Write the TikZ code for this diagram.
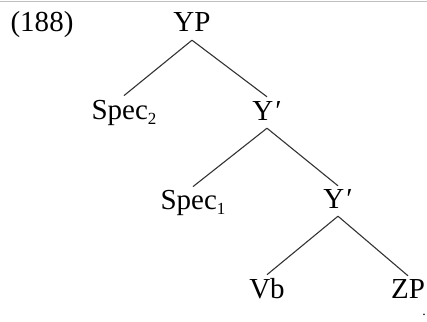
\documentclass[tikz,border=0pt]{standalone}
\usepackage{fontspec}
\setmainfont{Liberation Serif}
\newcommand{\lowsub}[1]{\raisebox{-5pt}{\fontsize{17}{17}\selectfont #1}}
\tikzset{
  cat/.style={anchor=base, inner sep=0pt, font=\fontsize{29}{29}\selectfont},
  branch/.style={line width=1.1pt, black!80},
}
\begin{document}
\begin{tikzpicture}[x=1pt, y=-1pt]
  \useasboundingbox (0,0) rectangle (427,321);
  % thin rule along the top edge
  \draw[black!25, line width=0.8pt] (0,1) -- (427,1);

  \node[cat] (ex) at (42,31) {(188)};
  \node[cat] (yp) at (192,31) {YP};
  \node[cat] (spec2) at (124,119) {Spec\lowsub{2}};
  \node[cat] (ybar1) at (267,120) {Y\kern2pt′};
  \node[cat] (spec1) at (193,209) {Spec\lowsub{1}};
  \node[cat] (ybar2) at (338,208) {Y\kern2pt′};
  \node[cat] (vb) at (267,298) {Vb};
  \node[cat] (zp) at (408,298) {ZP};
  \node[anchor=base, inner sep=0pt, font=\fontsize{14}{14}\selectfont] (dot) at (424,315) {.};

  \draw[branch] ([yshift=-9pt]yp.south) -- ([yshift=4pt]spec2.north);
  \draw[branch] ([yshift=-9pt]yp.south) -- ([yshift=4pt]ybar1.north);
  \draw[branch] ([yshift=-8pt]ybar1.south) -- ([yshift=3pt]spec1.north);
  \draw[branch] ([yshift=-8pt]ybar1.south) -- ([yshift=3pt]ybar2.north);
  \draw[branch] ([yshift=-8pt]ybar2.south) -- ([yshift=3pt]vb.north);
  \draw[branch] ([yshift=-8pt]ybar2.south) -- ([yshift=3pt]zp.north);
\end{tikzpicture}
\end{document}
